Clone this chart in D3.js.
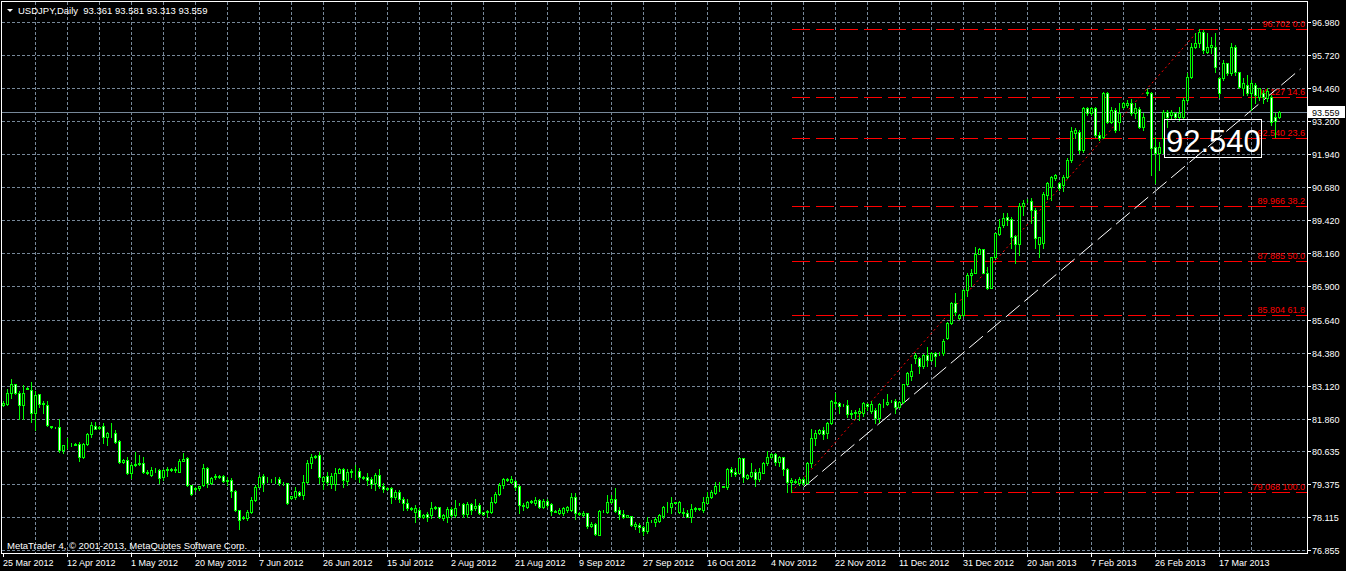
<!DOCTYPE html>
<html>
<head>
<meta charset="utf-8">
<script src="https://cdn.jsdelivr.net/npm/d3@7"></script>
<style>
    html, body { margin: 0; padding: 0; background: #000; overflow: hidden; }
    text { font-family: "Liberation Sans", Arial, sans-serif; }
</style>
</head>
<body>
<svg id="chart" width="1346" height="571"></svg>
<script>
// USDJPY daily bars, 25 Mar 2012 .. early Apr 2013
const opens = [
82.40,82.41,82.85,83.18,82.85,82.38,83.00,82.95,82.09,82.80,
82.42,82.38,81.60,81.53,81.53,80.67,80.86,80.85,80.87,80.89,
80.41,80.89,81.27,81.59,81.50,81.58,81.17,81.31,81.30,81.02,
80.22,80.28,79.78,80.09,80.12,80.18,79.84,79.71,79.90,79.90,
79.62,79.90,79.93,79.92,79.84,80.26,80.35,79.33,79.18,79.22,
79.33,79.97,79.40,79.64,79.66,79.68,79.52,79.52,79.12,78.38,
78.10,78.06,78.31,78.76,79.27,79.68,79.52,79.50,79.52,79.55,
79.40,79.42,78.83,78.89,79.08,78.95,79.46,80.18,80.40,80.47,
79.50,79.67,79.37,79.37,79.80,79.93,79.50,79.83,79.86,79.88,
79.62,79.62,79.55,79.40,79.71,79.29,79.20,79.20,78.86,79.08,
78.79,78.63,78.44,78.32,78.38,78.13,78.23,78.19,78.46,78.48,
78.08,78.10,78.40,78.19,78.60,78.61,78.23,78.61,78.44,78.57,
78.29,78.29,78.32,78.70,78.99,79.33,79.55,79.46,79.50,79.29,
78.57,78.51,78.70,78.63,78.76,78.51,78.73,78.61,78.35,78.25,
78.28,78.38,78.38,78.86,78.25,78.19,78.25,77.77,77.85,77.43,
78.35,78.32,78.70,78.79,78.38,78.23,78.12,78.15,77.77,77.81,
77.72,77.59,77.96,77.93,77.97,78.15,78.49,78.48,78.66,78.32,
78.32,78.28,78.10,78.40,78.44,78.38,78.66,78.86,79.04,79.29,
79.27,79.24,79.93,79.84,79.78,80.35,79.59,79.68,79.81,79.55,
79.80,80.16,80.41,80.51,80.22,80.41,79.93,79.44,79.46,79.40,
79.55,79.42,80.16,81.11,81.30,81.43,81.30,81.68,82.44,82.47,
82.38,82.38,82.04,82.06,82.09,82.09,82.42,82.16,82.19,81.87,
82.42,82.42,82.53,82.55,82.32,82.51,83.18,83.47,84.16,84.16,
83.85,84.29,84.10,84.38,84.35,84.36,84.93,85.50,86.28,85.69,
85.81,86.77,87.34,87.43,88.14,88.32,87.43,86.83,88.01,88.90,
89.24,89.56,89.46,88.82,88.52,89.97,90.15,90.17,89.82,88.52,
88.55,90.39,90.70,91.02,90.83,90.77,91.09,91.72,92.76,92.80,
92.10,93.69,93.50,93.69,92.67,92.61,94.26,93.18,93.63,93.18,
93.75,93.82,93.88,93.50,93.65,92.99,94.26,94.26,92.21,91.98,
92.55,93.56,93.44,93.50,93.35,93.37,94.01,94.90,96.04,96.17,
96.61,95.85,96.04,96.04,94.83,94.83,95.40,95.02,96.04,95.09,
94.45,94.58,94.26,94.58,94.13,94.29,94.10,94.13,93.35,93.361
];
const highs = [
82.52,83.01,83.36,83.20,82.93,83.14,83.05,83.27,82.93,82.82,
82.54,82.54,81.60,81.56,81.83,80.86,81.11,80.95,80.95,80.98,
80.92,81.30,81.74,81.74,81.60,81.68,81.36,81.68,81.43,81.05,
80.32,80.39,80.16,80.60,80.47,80.41,79.90,80.03,79.97,79.93,
79.93,80.03,79.97,80.03,80.31,80.54,80.39,79.33,79.25,79.30,
80.13,80.00,79.62,79.75,79.70,79.71,79.65,79.59,79.14,78.38,
78.14,78.38,78.89,79.32,79.71,79.75,79.62,79.57,79.62,79.62,
79.46,79.42,78.93,79.27,79.10,79.71,80.28,80.51,80.48,80.60,
79.67,79.84,79.78,79.97,79.97,79.97,79.93,79.93,80.09,79.97,
79.66,79.78,79.65,79.78,79.93,79.39,79.25,79.27,79.14,79.14,
78.86,78.79,78.50,78.57,78.44,78.23,78.32,78.70,78.53,78.51,
78.23,78.51,78.51,78.76,78.65,78.66,78.70,78.66,78.78,78.66,
78.31,78.38,78.89,79.08,79.40,79.59,79.59,79.68,79.52,79.33,
78.66,78.73,78.76,78.86,78.78,78.78,78.78,78.66,78.38,78.44,
78.51,78.53,79.01,79.01,78.32,78.35,78.28,77.93,77.87,78.38,
78.38,78.95,78.95,79.20,78.51,78.38,78.20,78.15,77.93,77.90,
77.77,78.10,78.00,78.10,78.23,78.53,78.70,78.89,78.70,78.73,
78.44,78.38,78.61,78.48,78.46,78.89,79.08,79.14,79.46,79.46,
79.30,79.97,80.00,79.97,80.35,80.35,79.75,80.16,79.93,79.97,
80.22,80.64,80.54,80.54,80.44,80.41,79.97,79.59,79.55,79.62,
79.62,80.22,81.45,81.43,81.46,81.55,81.74,82.57,82.85,82.51,
82.42,82.57,82.21,82.21,82.25,82.51,82.47,82.55,82.25,82.47,
82.60,82.82,82.57,82.60,82.55,83.20,83.65,83.95,84.38,84.23,
84.33,84.61,84.42,84.42,84.42,84.88,85.53,86.32,86.64,85.85,
86.80,87.40,87.55,88.42,88.36,88.32,87.63,88.04,88.95,89.46,
89.69,89.69,89.56,88.86,90.07,90.20,90.22,90.26,89.88,88.80,
90.51,90.89,91.11,91.20,90.90,91.15,91.78,92.99,92.93,92.87,
93.75,93.75,93.75,93.75,92.80,94.30,94.30,93.75,93.69,93.88,
93.94,94.01,94.03,93.88,93.75,93.50,94.41,94.33,92.61,92.42,
93.63,93.63,93.63,93.56,93.75,94.07,95.02,96.17,96.55,96.702,
96.67,96.55,96.42,96.55,94.90,95.53,95.40,96.17,96.10,95.09,
94.83,94.96,94.77,94.64,94.45,94.39,94.45,94.20,93.50,93.581
];
const lows = [
82.36,82.38,82.63,82.82,81.83,81.83,82.98,81.74,81.43,82.32,
82.06,81.58,81.50,81.50,80.60,80.56,80.73,80.80,80.84,80.26,
80.38,80.86,81.17,81.45,81.46,80.92,80.86,81.17,80.95,80.18,
80.19,79.75,79.59,80.05,80.09,79.80,79.75,79.67,79.84,79.42,
79.52,79.67,79.88,79.84,79.84,80.24,79.29,78.96,79.12,79.15,
79.29,79.27,79.37,79.55,79.60,79.46,79.33,78.86,78.35,77.64,
78.05,78.00,78.28,78.72,79.24,79.12,79.46,79.44,79.40,79.35,
79.35,78.61,78.78,78.79,78.90,78.79,79.40,79.97,80.38,79.42,
79.17,79.33,79.20,79.14,79.78,79.27,79.33,79.65,79.55,79.46,
79.58,79.33,79.20,79.14,79.20,79.08,79.15,78.63,78.79,78.70,
78.38,78.38,78.38,77.93,78.10,78.06,77.97,78.06,78.43,78.06,
78.00,77.93,78.13,78.13,78.58,78.13,78.13,78.23,78.38,78.23,
78.20,78.13,78.28,78.63,78.95,79.20,79.50,79.40,79.14,78.28,
78.38,78.44,78.65,78.57,78.44,78.44,78.51,78.19,78.30,78.23,
78.19,78.32,78.35,78.02,78.19,78.15,77.68,77.72,77.43,77.43,
78.32,78.28,78.63,78.32,78.02,78.07,78.10,77.77,77.64,77.55,
77.43,77.49,77.93,77.77,77.93,78.06,78.32,78.28,78.63,78.28,
78.15,78.10,77.93,78.36,78.38,78.32,78.63,78.82,78.99,79.12,
79.25,79.17,79.67,79.67,79.78,79.46,79.55,79.62,79.30,79.50,
79.78,80.09,80.38,80.09,80.05,79.71,79.08,79.068,79.40,79.33,
79.33,79.40,80.03,80.86,81.27,81.07,81.11,81.66,82.32,82.06,
82.33,81.91,81.87,81.87,81.81,81.96,82.21,82.09,81.68,81.74,
82.32,82.38,82.50,82.09,82.28,82.47,83.14,83.34,83.97,83.59,
83.80,83.85,84.04,83.85,84.30,84.30,84.88,85.48,85.81,85.66,
85.78,86.52,86.92,87.40,88.14,87.40,86.79,86.83,87.97,88.86,
89.18,89.24,88.36,87.81,88.10,89.62,90.12,89.31,88.36,88.04,
88.36,90.22,90.20,90.95,90.58,90.52,91.02,91.66,92.55,92.00,
92.04,93.44,93.44,92.61,92.48,92.55,93.12,93.12,92.80,92.87,
93.69,93.75,93.44,93.31,92.93,92.87,94.20,91.15,90.83,91.34,
91.98,92.99,93.31,93.31,93.25,93.31,93.94,94.83,95.98,96.04,
95.79,95.79,95.79,95.09,94.13,94.77,94.96,94.96,94.96,94.45,
94.20,94.20,93.63,93.88,94.01,93.88,93.95,93.06,92.61,93.313
];
const closes = [
82.45,82.85,83.18,82.85,82.38,82.85,83.02,82.09,82.76,82.42,
82.44,81.62,81.53,81.55,80.67,80.86,80.85,80.87,80.89,80.41,
80.89,81.27,81.62,81.48,81.56,81.17,81.33,81.30,80.98,80.22,
80.28,79.78,80.09,80.12,80.16,79.84,79.80,79.90,79.92,79.59,
79.90,79.93,79.92,79.94,80.26,80.31,79.33,78.99,79.20,79.28,
79.97,79.40,79.59,79.66,79.65,79.50,79.50,79.12,78.38,78.00,
78.09,78.31,78.76,79.27,79.65,79.42,79.54,79.49,79.54,79.40,
79.42,78.63,78.90,79.12,78.95,79.46,80.18,80.39,80.45,79.62,
79.62,79.46,79.67,79.78,79.93,79.52,79.81,79.85,79.88,79.62,
79.61,79.52,79.37,79.71,79.29,79.17,79.19,78.86,79.08,78.79,
78.63,78.44,78.43,78.44,78.13,78.19,78.10,78.44,78.50,78.10,
78.19,78.40,78.19,78.44,78.62,78.23,78.61,78.38,78.53,78.25,
78.23,78.35,78.70,78.99,79.33,79.55,79.54,79.55,79.27,78.57,
78.53,78.70,78.71,78.76,78.51,78.73,78.57,78.35,78.32,78.38,
78.44,78.51,78.86,78.25,78.24,78.28,77.77,77.85,77.46,78.35,
78.36,78.70,78.79,78.35,78.23,78.10,78.18,77.81,77.85,77.72,
77.59,77.93,77.97,78.02,78.19,78.51,78.48,78.66,78.67,78.70,
78.25,78.10,78.40,78.44,78.42,78.70,78.89,79.08,79.29,79.30,
79.28,79.93,79.84,79.75,80.35,79.65,79.71,79.81,79.55,79.84,
80.18,80.39,80.51,80.22,80.41,79.93,79.46,79.52,79.47,79.55,
79.40,80.16,81.11,81.30,81.43,81.27,81.68,82.55,82.51,82.35,
82.39,82.04,82.09,82.12,82.16,82.44,82.34,82.42,81.87,82.42,
82.41,82.51,82.54,82.32,82.51,83.18,83.59,83.66,84.29,83.85,
84.29,84.10,84.38,84.25,84.36,84.84,85.50,86.28,85.94,85.81,
86.77,87.34,87.43,88.14,88.32,87.43,86.83,88.01,88.95,89.16,
89.50,89.43,88.80,88.52,89.97,90.07,90.17,89.82,88.74,88.78,
90.42,90.83,91.09,91.15,90.64,91.09,91.72,92.84,92.87,92.10,
93.69,93.50,93.69,92.67,92.55,94.26,93.18,93.63,92.87,93.50,
93.88,93.91,93.50,93.69,92.99,93.37,94.33,92.17,91.98,92.21,
93.56,93.37,93.56,93.37,93.50,94.01,94.90,96.04,96.19,96.61,
95.92,96.04,96.10,95.28,94.26,95.40,95.02,96.04,95.09,94.52,
94.64,94.26,94.64,94.20,94.45,94.13,94.35,93.18,93.22,93.559
];

// one date label every 16 bars
const dateLabels = ['25 Mar 2012', '12 Apr 2012', '1 May 2012', '20 May 2012', '7 Jun 2012',
    '26 Jun 2012', '15 Jul 2012', '2 Aug 2012', '21 Aug 2012', '9 Sep 2012', '27 Sep 2012',
    '16 Oct 2012', '4 Nov 2012', '22 Nov 2012', '11 Dec 2012', '31 Dec 2012', '20 Jan 2013',
    '7 Feb 2013', '26 Feb 2013', '17 Mar 2013'];
const priceTicks = ['96.980', '95.720', '94.460', '93.200', '91.940', '90.680', '89.420', '88.160',
    '86.900', '85.640', '84.380', '83.120', '81.860', '80.635', '79.375', '78.115', '76.855'];

// fibonacci from the Nov low bar to the Mar high bar
const fibLowBar = 197;
const fibHighBar = 299;
const fibRatios = [0, 0.146, 0.236, 0.382, 0.5, 0.618, 1];
const fibRatioLabels = ['0.0', '14.6', '23.6', '38.2', '50.0', '61.8', '100.0'];
// white trend line anchors: [bar, price]
const trendPoints = [[200.1, 79.26], [324.25, 95.19]];
const bigLabel = '92.540';

const n = closes.length;
const svg = d3.select('#chart');
svg.append('rect').attr('width', 1346).attr('height', 571).attr('fill', '#000');

const xScale = d3.scaleLinear().domain([0, n - 1]).range([3.5, 3.5 + 4 * (n - 1)]);
const yScale = d3.scaleLinear().domain([76.855, 96.98]).range([550, 22]);
const px = (v) => Math.round(v) + 0.5;

const plotRight = 1307;
const plotBottom = 553;

// grid
const grid = svg.append('g').attr('shape-rendering', 'crispEdges')
    .attr('stroke', '#778899').attr('stroke-dasharray', '3,2');
grid.selectAll('.hg')
    .data(priceTicks)
    .enter()
    .append('line')
    .attr('x1', 2).attr('x2', plotRight)
    .attr('y1', (d) => px(yScale(+d)))
    .attr('y2', (d) => px(yScale(+d)));
grid.selectAll('.vg')
    .data(d3.range(8, n, 8))
    .enter()
    .append('line')
    .attr('x1', (d) => xScale(d)).attr('x2', (d) => xScale(d))
    .attr('y1', 2).attr('y2', plotBottom);

// bid line
const lastClose = closes[n - 1];
svg.append('line')
    .attr('x1', 2).attr('x2', plotRight)
    .attr('y1', px(yScale(lastClose))).attr('y2', px(yScale(lastClose)))
    .attr('stroke', '#778899')
    .attr('shape-rendering', 'crispEdges');

// fibonacci levels
const fibHigh = highs[fibHighBar];
const fibLow = lows[fibLowBar];
const fibLevels = fibRatios.map((r) => fibHigh - r * (fibHigh - fibLow));
const fib = svg.append('g');
fib.selectAll('line')
    .data(fibLevels)
    .enter()
    .append('line')
    .attr('x1', xScale(fibLowBar)).attr('x2', plotRight)
    .attr('y1', (d) => px(yScale(d))).attr('y2', (d) => px(yScale(d)))
    .attr('stroke', '#ff0000')
    .attr('stroke-dasharray', '18,6')
    .attr('shape-rendering', 'crispEdges');
fib.selectAll('text')
    .data(fibLevels)
    .enter()
    .append('text')
    .attr('x', 1305)
    .attr('y', (d) => px(yScale(d)) - 3)
    .attr('text-anchor', 'end')
    .attr('font-size', '9px')
    .attr('fill', '#ff0000')
    .text((d, i) => d3.format('.3f')(d) + ' ' + fibRatioLabels[i]);
fib.append('line')
    .attr('x1', xScale(fibLowBar)).attr('y1', yScale(fibLow))
    .attr('x2', xScale(fibHighBar)).attr('y2', yScale(fibHigh))
    .attr('stroke', '#ff0000')
    .attr('stroke-dasharray', '2,3');

// trend line
svg.append('line')
    .attr('x1', xScale(trendPoints[0][0])).attr('y1', yScale(trendPoints[0][1]))
    .attr('x2', xScale(trendPoints[1][0])).attr('y2', yScale(trendPoints[1][1]))
    .attr('stroke', '#ffffff')
    .attr('stroke-dasharray', '18,6');

// candles
const bars = d3.range(n).map((i) => ({ i, o: opens[i], h: highs[i], l: lows[i], c: closes[i] }));
const candles = svg.append('g').attr('shape-rendering', 'crispEdges');
candles.selectAll('.wick')
    .data(bars)
    .enter()
    .append('line')
    .attr('x1', (d) => xScale(d.i)).attr('x2', (d) => xScale(d.i))
    .attr('y1', (d) => Math.round(yScale(d.h)))
    .attr('y2', (d) => Math.round(yScale(d.l)) + 1)
    .attr('stroke', '#00ff00');
candles.selectAll('.body')
    .data(bars)
    .enter()
    .append('rect')
    .attr('x', (d) => xScale(d.i) - 1)
    .attr('y', (d) => px(yScale(Math.max(d.o, d.c))))
    .attr('width', 2)
    .attr('height', (d) => Math.max(0, Math.round(yScale(Math.min(d.o, d.c))) - Math.round(yScale(Math.max(d.o, d.c)))))
    .attr('fill', (d) => d.c >= d.o ? '#000000' : '#ffffff')
    .attr('stroke', '#00ff00');

// frame
svg.append('rect')
    .attr('x', 1.5).attr('y', 1.5)
    .attr('width', plotRight - 1).attr('height', plotBottom - 1)
    .attr('fill', 'none')
    .attr('stroke', '#ffffff')
    .attr('shape-rendering', 'crispEdges');

// price axis
const yAxis = svg.append('g').attr('fill', '#ffffff');
yAxis.selectAll('line')
    .data(priceTicks)
    .enter()
    .append('line')
    .attr('x1', plotRight).attr('x2', plotRight + 4)
    .attr('y1', (d) => px(yScale(+d))).attr('y2', (d) => px(yScale(+d)))
    .attr('stroke', '#ffffff')
    .attr('shape-rendering', 'crispEdges');
yAxis.selectAll('text')
    .data(priceTicks)
    .enter()
    .append('text')
    .attr('x', 1312)
    .attr('y', (d) => px(yScale(+d)) + 3.5)
    .attr('font-size', '9px')
    .text((d) => d);

// current price box
svg.append('rect')
    .attr('x', 1308).attr('y', px(yScale(lastClose)) - 6.5)
    .attr('width', 37).attr('height', 12)
    .attr('fill', '#ffffff');
svg.append('text')
    .attr('x', 1312).attr('y', px(yScale(lastClose)) + 3.5)
    .attr('font-size', '9px')
    .attr('fill', '#000000')
    .text(d3.format('.3f')(lastClose));

// date axis
const xAxis = svg.append('g');
xAxis.selectAll('line')
    .data(dateLabels)
    .enter()
    .append('line')
    .attr('x1', (d, i) => xScale(i * 16)).attr('x2', (d, i) => xScale(i * 16))
    .attr('y1', plotBottom).attr('y2', plotBottom + 4)
    .attr('stroke', '#ffffff')
    .attr('shape-rendering', 'crispEdges');
xAxis.selectAll('text')
    .data(dateLabels)
    .enter()
    .append('text')
    .attr('x', (d, i) => xScale(i * 16) - 0.5)
    .attr('y', 566)
    .attr('font-size', '9px')
    .attr('fill', '#ffffff')
    .text((d) => d);

// title
svg.append('path').attr('d', 'M7,9L13,9L10,12Z').attr('fill', '#ffffff');
svg.append('text')
    .attr('x', 18).attr('y', 13.5)
    .attr('font-size', '9.5px')
    .attr('fill', '#ffffff')
    .style('white-space', 'pre')
    .text('USDJPY,Daily  ' + [opens[n - 1], highs[n - 1], lows[n - 1], closes[n - 1]].map(d3.format('.3f')).join(' '));

svg.append('text')
    .attr('x', 7).attr('y', 549)
    .attr('font-size', '9.5px')
    .attr('fill', '#ffffff')
    .text('MetaTrader 4, \u00a9 2001-2013, MetaQuotes Software Corp.');

// big price label
svg.append('rect')
    .attr('x', 1164.5).attr('y', 119.5)
    .attr('width', 97).attr('height', 38)
    .attr('fill', 'none')
    .attr('stroke', '#ffffff')
    .attr('shape-rendering', 'crispEdges');
svg.append('text')
    .attr('x', 1166).attr('y', 152)
    .attr('font-size', '31px')
    .attr('fill', '#ffffff')
    .text(bigLabel);
</script>
</body>
</html>
